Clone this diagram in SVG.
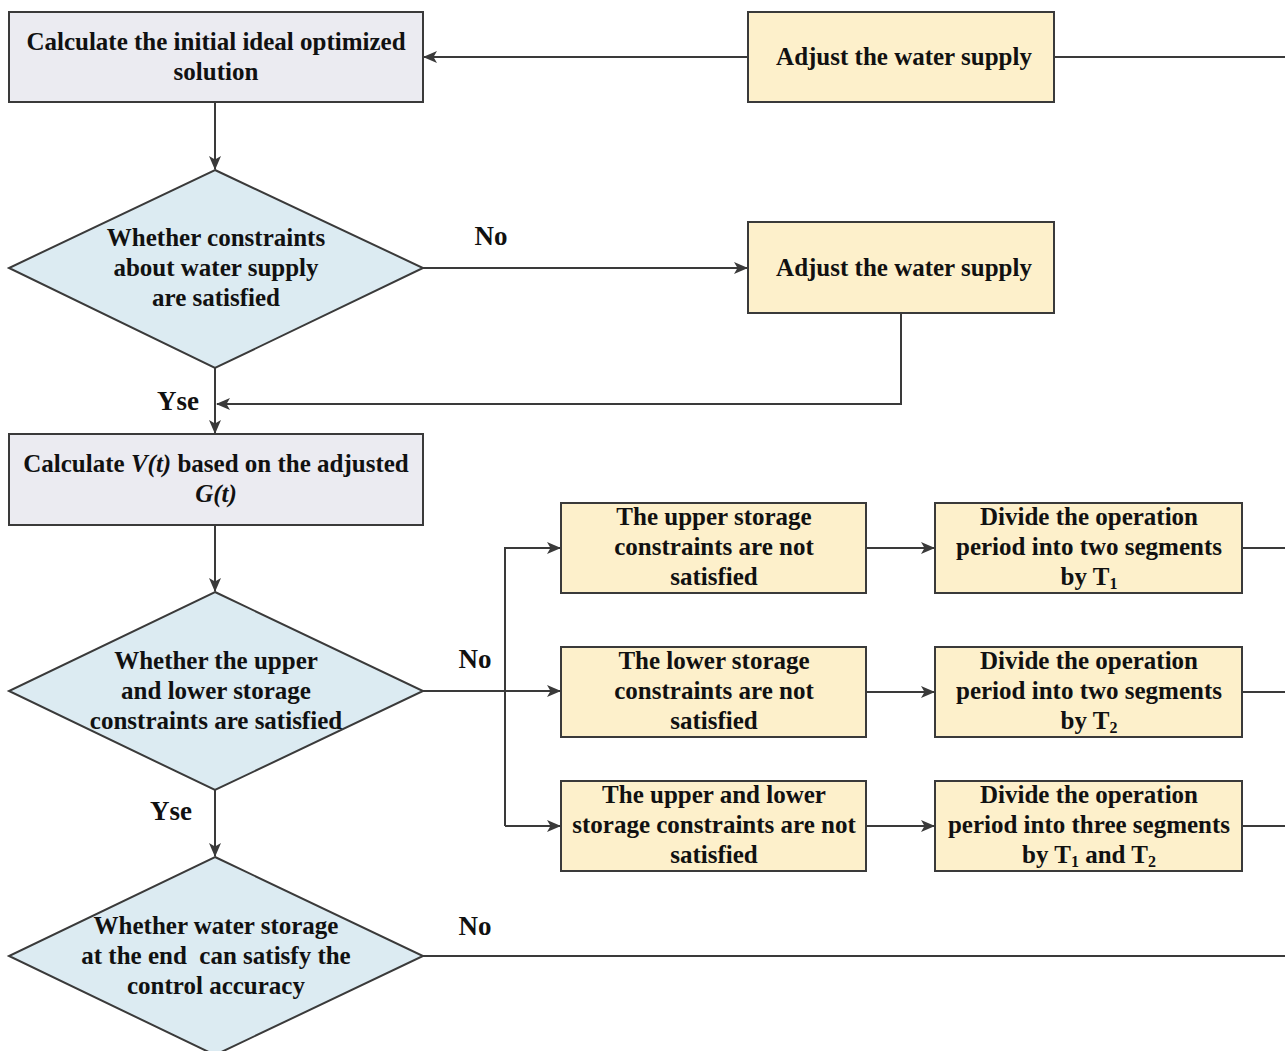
<svg xmlns="http://www.w3.org/2000/svg" width="1285" height="1051" viewBox="0 0 1285 1051">
<defs>
<marker id="ah" viewBox="0 0 14 12" refX="13" refY="6" markerWidth="14" markerHeight="12" markerUnits="userSpaceOnUse" orient="auto">
<path d="M0,0 L14,6 L0,12 L3.5,6 Z" fill="#3a3a3a"/>
</marker>
</defs>
<style>
text{font-family:"Liberation Serif","Times New Roman",serif;font-weight:bold;font-size:25px;fill:#111;text-anchor:middle}
.lbl{font-size:27px}
.grey{fill:#ebebf1;stroke:#3a3a3a;stroke-width:2}
.yel{fill:#fdf0cb;stroke:#3a3a3a;stroke-width:2}
.blue{fill:#dcebf2;stroke:#3a3a3a;stroke-width:2}
.c{fill:none;stroke:#3a3a3a;stroke-width:2}
.sub{font-size:16px}
</style>
<rect width="1285" height="1051" fill="#fff"/>
<g id="connectors">
<path class="c" d="M1054,57 H1285"/>
<path class="c" d="M748,57 H424" marker-end="url(#ah)"/>
<path class="c" d="M215,102 V169" marker-end="url(#ah)"/>
<path class="c" d="M423,268 H747" marker-end="url(#ah)"/>
<path class="c" d="M901,313 V404 H217" marker-end="url(#ah)"/>
<path class="c" d="M215,368 V433" marker-end="url(#ah)"/>
<path class="c" d="M215,525 V591" marker-end="url(#ah)"/>
<path class="c" d="M423,691 H560" marker-end="url(#ah)"/>
<path class="c" d="M505,826 V548 H560" marker-end="url(#ah)"/>
<path class="c" d="M505,826 H560" marker-end="url(#ah)"/>
<path class="c" d="M866,548 H934" marker-end="url(#ah)"/>
<path class="c" d="M866,692 H934" marker-end="url(#ah)"/>
<path class="c" d="M866,826 H934" marker-end="url(#ah)"/>
<path class="c" d="M1242,548 H1285"/>
<path class="c" d="M1242,692 H1285"/>
<path class="c" d="M1242,826 H1285"/>
<path class="c" d="M215,790 V856" marker-end="url(#ah)"/>
<path class="c" d="M423,956 H1285"/>
<text class="lbl" x="491" y="245">No</text>
<text class="lbl" x="178" y="410">Yse</text>
<text class="lbl" x="475" y="668">No</text>
<text class="lbl" x="171" y="820">Yse</text>
<text class="lbl" x="475" y="935">No</text>
</g>
<g id="init">
<rect class="grey" x="9" y="12" width="414" height="90"/>
<text x="216" y="50">Calculate the initial ideal optimized</text>
<text x="216" y="80">solution</text>
</g>
<g id="adjust1">
<rect class="yel" x="748" y="12" width="306" height="90"/>
<text x="904" y="65">Adjust the water supply</text>
</g>
<g id="check1">
<polygon class="blue" points="215,170 423,268 215,368 9,268"/>
<text x="216" y="246">Whether constraints</text>
<text x="216" y="276">about water supply</text>
<text x="216" y="306">are satisfied</text>
</g>
<g id="adjust2">
<rect class="yel" x="748" y="222" width="306" height="91"/>
<text x="904" y="276">Adjust the water supply</text>
</g>
<g id="calcV">
<rect class="grey" x="9" y="434" width="414" height="91"/>
<text x="216" y="472">Calculate <tspan font-style="italic">V(t)</tspan> based on the adjusted</text>
<text x="216" y="502" font-style="italic">G(t)</text>
</g>
<g id="check2">
<polygon class="blue" points="215,592 423,691 215,790 9,691"/>
<text x="216" y="669">Whether the upper</text>
<text x="216" y="699">and lower storage</text>
<text x="216" y="729">constraints are satisfied</text>
</g>
<g id="upper">
<rect class="yel" x="561" y="503" width="305" height="90"/>
<text x="714" y="525">The upper storage</text>
<text x="714" y="555">constraints are not</text>
<text x="714" y="585">satisfied</text>
</g>
<g id="lower">
<rect class="yel" x="561" y="647" width="305" height="90"/>
<text x="714" y="669">The lower storage</text>
<text x="714" y="699">constraints are not</text>
<text x="714" y="729">satisfied</text>
</g>
<g id="both">
<rect class="yel" x="561" y="781" width="305" height="90"/>
<text x="714" y="803">The upper and lower</text>
<text x="714" y="833">storage constraints are not</text>
<text x="714" y="863">satisfied</text>
</g>
<g id="div1">
<rect class="yel" x="935" y="503" width="307" height="90"/>
<text x="1089" y="525">Divide the operation</text>
<text x="1089" y="555">period into two segments</text>
<text x="1089" y="585">by T<tspan class="sub" dy="4">1</tspan></text>
</g>
<g id="div2">
<rect class="yel" x="935" y="647" width="307" height="90"/>
<text x="1089" y="669">Divide the operation</text>
<text x="1089" y="699">period into two segments</text>
<text x="1089" y="729">by T<tspan class="sub" dy="4">2</tspan></text>
</g>
<g id="div3">
<rect class="yel" x="935" y="781" width="307" height="90"/>
<text x="1089" y="803">Divide the operation</text>
<text x="1089" y="833">period into three segments</text>
<text x="1089" y="863">by T<tspan class="sub" dy="4">1</tspan><tspan dy="-4"> and T</tspan><tspan class="sub" dy="4">2</tspan></text>
</g>
<g id="check3">
<polygon class="blue" points="215,857 423,956 215,1055 9,956"/>
<text x="216" y="934">Whether water storage</text>
<text x="216" y="964" xml:space="preserve">at the end  can satisfy the</text>
<text x="216" y="994">control accuracy</text>
</g>
</svg>
